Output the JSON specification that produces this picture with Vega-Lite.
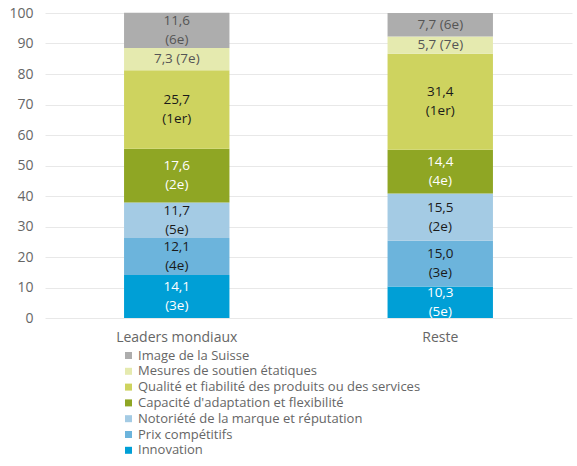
{
  "$schema": "https://vega.github.io/schema/vega-lite/v6.json",
  "width": 527,
  "height": 305,
  "autosize": {"type": "none"},
  "padding": {"left": 45, "top": 13, "right": 5, "bottom": 148},
  "background": "white",
  "config": {
    "view": {"stroke": null},
    "font": "Open Sans",
    "axis": {"labelFont": "Open Sans", "labelFontSize": 14, "labelColor": "#666666"},
    "legend": {"labelFont": "Open Sans", "labelFontSize": 13, "labelColor": "#666666"}
  },
  "data": {
    "values": [
      {"group": "Leaders mondiaux", "category": "Innovation", "value": 14.1, "label": "14,1\n(3e)", "order": 1},
      {"group": "Leaders mondiaux", "category": "Prix compétitifs", "value": 12.1, "label": "12,1\n(4e)", "order": 2},
      {"group": "Leaders mondiaux", "category": "Notoriété de la marque et réputation", "value": 11.7, "label": "11,7\n(5e)", "order": 3},
      {"group": "Leaders mondiaux", "category": "Capacité d'adaptation et flexibilité", "value": 17.6, "label": "17,6\n(2e)", "order": 4},
      {"group": "Leaders mondiaux", "category": "Qualité et fiabilité des produits ou des services", "value": 25.7, "label": "25,7\n(1er)", "order": 5},
      {"group": "Leaders mondiaux", "category": "Mesures de soutien étatiques", "value": 7.3, "label": "7,3 (7e)", "order": 6},
      {"group": "Leaders mondiaux", "category": "Image de la Suisse", "value": 11.6, "label": "11,6\n(6e)", "order": 7},
      {"group": "Reste", "category": "Innovation", "value": 10.3, "label": "10,3\n(5e)", "order": 1},
      {"group": "Reste", "category": "Prix compétitifs", "value": 15.0, "label": "15,0\n(3e)", "order": 2},
      {"group": "Reste", "category": "Notoriété de la marque et réputation", "value": 15.5, "label": "15,5\n(2e)", "order": 3},
      {"group": "Reste", "category": "Capacité d'adaptation et flexibilité", "value": 14.4, "label": "14,4\n(4e)", "order": 4},
      {"group": "Reste", "category": "Qualité et fiabilité des produits ou des services", "value": 31.4, "label": "31,4\n(1er)", "order": 5},
      {"group": "Reste", "category": "Mesures de soutien étatiques", "value": 5.7, "label": "5,7 (7e)", "order": 6},
      {"group": "Reste", "category": "Image de la Suisse", "value": 7.7, "label": "7,7 (6e)", "order": 7}
    ]
  },
  "transform": [
    {"stack": "value", "groupby": ["group"], "sort": [{"field": "order"}], "as": ["y0", "y1"]},
    {"calculate": "(datum.y0 + datum.y1) / 2", "as": "ymid"}
  ],
  "encoding": {
    "x": {
      "field": "group",
      "type": "nominal",
      "scale": {"paddingInner": 0, "paddingOuter": 0},
      "axis": {"title": null, "labelAngle": 0, "ticks": false, "domain": false, "labelPadding": 12}
    }
  },
  "layer": [
    {
      "mark": {"type": "bar", "width": {"band": 0.4}},
      "encoding": {
        "y": {
          "field": "y0",
          "type": "quantitative",
          "scale": {"domain": [0, 100], "nice": false},
          "axis": {"title": null, "values": [0, 10, 20, 30, 40, 50, 60, 70, 80, 90, 100], "tickCount": 12, "labelOverlap": false, "ticks": false, "domain": false, "labelPadding": 12, "gridColor": "#e8e8e8"}
        },
        "y2": {"field": "y1"},
        "color": {
          "field": "category",
          "type": "nominal",
          "scale": {
            "domain": [
              "Image de la Suisse",
              "Mesures de soutien étatiques",
              "Qualité et fiabilité des produits ou des services",
              "Capacité d'adaptation et flexibilité",
              "Notoriété de la marque et réputation",
              "Prix compétitifs",
              "Innovation"
            ],
            "range": ["#adadad", "#e5eaaf", "#ced35f", "#8fa624", "#a4cbe4", "#6cb4dc", "#009fd6"]
          },
          "legend": {
            "title": null,
            "orient": "none",
            "legendX": 77,
            "legendY": 336,
            "symbolType": "square",
            "symbolSize": 49,
            "symbolStrokeWidth": 0,
            "labelOffset": 3,
            "rowPadding": 1.8,
            "labelLimit": 500
          }
        }
      }
    },
    {
      "transform": [{"filter": "indexof(datum.label, ' ') < 0"}],
      "mark": {"type": "text", "fontSize": 13.5, "lineBreak": "\n", "lineHeight": 19, "baseline": "middle", "align": "center", "dy": -9.5},
      "encoding": {
        "y": {
          "field": "ymid",
          "type": "quantitative",
          "axis": {"title": null, "values": [0, 10, 20, 30, 40, 50, 60, 70, 80, 90, 100], "tickCount": 12, "labelOverlap": false, "ticks": false, "domain": false, "labelPadding": 12, "gridColor": "#e8e8e8"}
        },
        "text": {"field": "label"},
        "color": {
          "condition": [
            {"test": "datum.category === 'Innovation' || datum.category === \"Capacité d'adaptation et flexibilité\"", "value": "#ffffff"},
            {"test": "datum.category === 'Image de la Suisse' || datum.category === 'Mesures de soutien étatiques'", "value": "#555555"}
          ],
          "value": "#1a1a1a"
        }
      }
    },
    {
      "transform": [{"filter": "indexof(datum.label, ' ') >= 0"}],
      "mark": {"type": "text", "fontSize": 13.5, "baseline": "middle", "align": "center"},
      "encoding": {
        "y": {
          "field": "ymid",
          "type": "quantitative",
          "axis": {"title": null, "values": [0, 10, 20, 30, 40, 50, 60, 70, 80, 90, 100], "tickCount": 12, "labelOverlap": false, "ticks": false, "domain": false, "labelPadding": 12, "gridColor": "#e8e8e8"}
        },
        "text": {"field": "label"},
        "color": {"value": "#555555"}
      }
    }
  ]
}
